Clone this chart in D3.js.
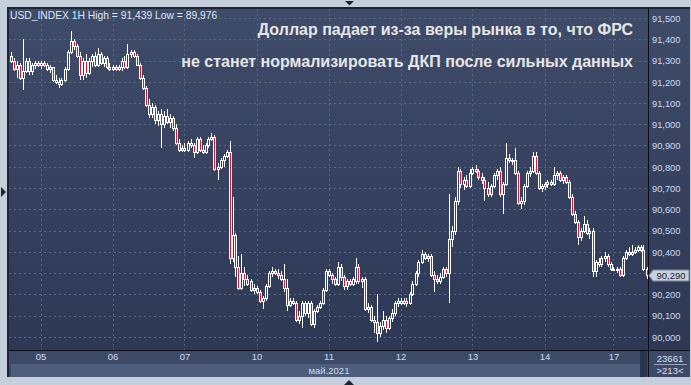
<!DOCTYPE html>
<html>
<head>
<meta charset="utf-8">
<script src="https://cdn.jsdelivr.net/npm/d3@7/dist/d3.min.js"></script>
<style>
  html, body { margin: 0; padding: 0; background: #c4cfdb; }
  svg { display: block; }
  text { font-family: "Liberation Sans", Arial, sans-serif; }
</style>
</head>
<body>
<svg id="chart" width="691" height="385"></svg>
<script>
// ---------- data (USD_INDEX, H1, 4–17 May 2021) ----------
const symbolTitle = "USD_INDEX 1H High = 91,439 Low = 89,976";
const headline1 = "Доллар падает из-за веры рынка в то, что ФРС";
const headline2 = "не станет нормализировать ДКП после сильных данных";
const monthLabel = "май.2021";
const lastPrice = 90.290;
const infoTop = "23661";
const infoBottom = ">213<";

const dayLabels = ["05", "06", "07", "10", "11", "12", "13", "14", "17"];
const dayStartBar = [10, 34, 58, 82, 106, 130, 154, 178, 201];
const priceTicks = [90.0, 90.1, 90.2, 90.3, 90.4, 90.5, 90.6, 90.7, 90.8, 90.9, 91.0, 91.1, 91.2, 91.3, 91.4, 91.5];

const opens = [
 91.32,91.30,91.26,91.28,91.22,91.25,91.30,91.25,91.28,91.29,
 91.28,91.29,91.28,91.26,91.27,91.21,91.20,91.19,91.21,91.26,
 91.34,91.39,91.37,91.32,91.23,91.30,91.24,91.30,91.32,91.28,
 91.33,91.29,91.31,91.27,91.26,91.27,91.26,91.27,91.30,91.27,
 91.33,91.34,91.32,91.28,91.22,91.17,91.09,91.05,91.08,91.02,
 91.05,91.00,91.04,91.01,91.03,90.98,90.91,90.88,90.89,90.88,
 90.91,90.90,90.87,90.93,90.88,90.87,90.90,90.93,90.94,90.79,
 90.80,90.83,90.85,90.87,90.37,90.48,90.33,90.23,90.30,90.27,
 90.26,90.22,90.23,90.21,90.17,90.18,90.24,90.30,90.31,90.30,
 90.29,90.27,90.23,90.15,90.17,90.16,90.08,90.10,90.16,90.11,
 90.16,90.06,90.12,90.14,90.16,90.22,90.31,90.29,90.27,90.25,
 90.33,90.28,90.24,90.26,90.25,90.26,90.33,90.26,90.27,90.13,
 90.14,90.08,90.07,90.02,90.05,90.08,90.04,90.09,90.11,90.16,
 90.17,90.16,90.17,90.16,90.20,90.25,90.30,90.35,90.39,90.37,
 90.38,90.29,90.27,90.26,90.28,90.32,90.30,90.46,90.50,90.64,
 90.78,90.72,90.74,90.71,90.77,90.79,90.78,90.75,90.74,90.70,
 90.67,90.71,90.76,90.78,90.67,90.72,90.84,90.83,90.83,90.77,
 90.63,90.64,90.71,90.77,90.78,90.85,90.77,90.70,90.71,90.72,
 90.73,90.72,90.76,90.77,90.74,90.75,90.73,90.66,90.58,90.54,
 90.47,90.50,90.53,90.49,90.50,90.31,90.35,90.34,90.37,90.38,
 90.34,90.32,90.32,90.32,90.29,90.37,90.40,90.39,90.40,90.41,
 90.42,90.41,90.32
];
const highs = [
 91.34,91.31,91.30,91.29,91.40,91.31,91.31,91.29,91.30,91.30,
 91.30,91.30,91.29,91.28,91.27,91.23,91.22,91.22,91.27,91.35,
 91.439,91.40,91.38,91.34,91.31,91.33,91.31,91.33,91.34,91.36,
 91.34,91.32,91.32,91.29,91.28,91.28,91.28,91.31,91.32,91.38,
 91.35,91.35,91.33,91.29,91.23,91.18,91.12,91.10,91.09,91.06,
 91.07,91.06,91.07,91.05,91.04,91.00,90.93,90.90,90.91,90.92,
 90.93,90.91,90.94,90.94,90.90,90.91,90.94,90.96,90.95,90.82,
 90.84,90.86,90.88,90.92,90.66,90.49,90.38,90.39,90.33,90.29,
 90.27,90.25,90.24,90.22,90.19,90.25,90.31,90.33,90.32,90.32,
 90.31,90.34,90.27,90.18,90.18,90.17,90.12,90.17,90.17,90.17,
 90.17,90.13,90.15,90.17,90.23,90.32,90.32,90.30,90.28,90.35,
 90.34,90.29,90.27,90.27,90.28,90.37,90.34,90.28,90.28,90.16,
 90.15,90.10,90.20,90.07,90.12,90.10,90.10,90.13,90.17,90.18,
 90.18,90.18,90.18,90.21,90.26,90.31,90.36,90.41,90.40,90.39,
 90.39,90.31,90.29,90.30,90.33,90.33,90.67,90.52,90.66,90.80,
 90.79,90.75,90.76,90.79,90.80,90.81,90.79,90.77,90.75,90.73,
 90.72,90.77,90.79,90.80,90.73,90.91,90.86,90.84,90.89,90.78,
 90.66,90.72,90.78,90.80,90.87,90.87,90.78,90.72,90.73,90.74,
 90.74,90.80,90.78,90.78,90.76,90.76,90.74,90.67,90.59,90.55,
 90.51,90.57,90.55,90.51,90.51,90.36,90.37,90.38,90.40,90.39,
 90.35,90.33,90.33,90.33,90.38,90.41,90.42,90.43,90.42,90.43,
 90.43,90.43,90.33
];
const lows = [
 91.29,91.25,91.22,91.21,91.16,91.24,91.23,91.23,91.26,91.27,
 91.26,91.27,91.25,91.24,91.20,91.19,91.17,91.18,91.20,91.25,
 91.33,91.35,91.31,91.21,91.21,91.22,91.23,91.27,91.27,91.27,
 91.28,91.27,91.26,91.25,91.25,91.25,91.25,91.25,91.26,91.26,
 91.31,91.31,91.28,91.21,91.16,91.08,91.03,91.03,91.00,90.99,
 90.89,90.98,91.00,90.98,90.97,90.90,90.87,90.87,90.87,90.87,
 90.89,90.84,90.86,90.87,90.86,90.86,90.89,90.92,90.78,90.74,
 90.79,90.80,90.84,90.34,90.35,90.28,90.22,90.22,90.24,90.24,
 90.21,90.20,90.20,90.16,90.13,90.17,90.23,90.28,90.29,90.27,
 90.26,90.21,90.12,90.14,90.15,90.07,90.06,90.04,90.10,90.09,
 90.05,90.04,90.11,90.13,90.15,90.21,90.28,90.25,90.24,90.24,
 90.26,90.22,90.22,90.24,90.24,90.25,90.25,90.23,90.12,90.11,
 90.07,90.02,89.976,90.00,90.03,90.02,90.03,90.07,90.10,90.14,
 90.15,90.15,90.14,90.15,90.19,90.24,90.28,90.34,90.36,90.35,
 90.28,90.21,90.25,90.25,90.27,90.28,90.16,90.42,90.48,90.62,
 90.70,90.69,90.70,90.70,90.76,90.77,90.74,90.72,90.64,90.66,
 90.66,90.70,90.74,90.66,90.58,90.71,90.82,90.81,90.76,90.62,
 90.60,90.62,90.70,90.75,90.77,90.76,90.69,90.68,90.69,90.70,
 90.71,90.71,90.74,90.73,90.72,90.72,90.65,90.57,90.53,90.43,
 90.45,90.49,90.48,90.46,90.28,90.28,90.33,90.33,90.35,90.33,
 90.31,90.31,90.30,90.28,90.28,90.36,90.38,90.38,90.39,90.40,
 90.40,90.31,90.27
];
const closes = [
 91.30,91.26,91.28,91.22,91.25,91.30,91.25,91.28,91.29,91.28,
 91.29,91.28,91.26,91.27,91.21,91.20,91.19,91.21,91.26,91.34,
 91.39,91.37,91.32,91.23,91.30,91.24,91.30,91.32,91.28,91.33,
 91.29,91.31,91.27,91.26,91.27,91.26,91.27,91.30,91.27,91.33,
 91.34,91.32,91.28,91.22,91.17,91.09,91.05,91.08,91.02,91.05,
 91.00,91.04,91.01,91.03,90.98,90.91,90.88,90.89,90.88,90.91,
 90.90,90.87,90.93,90.88,90.87,90.90,90.93,90.94,90.79,90.80,
 90.83,90.85,90.87,90.37,90.48,90.33,90.23,90.30,90.27,90.25,
 90.22,90.23,90.21,90.17,90.18,90.24,90.30,90.31,90.30,90.29,
 90.27,90.23,90.15,90.17,90.16,90.08,90.10,90.16,90.11,90.16,
 90.06,90.12,90.14,90.16,90.22,90.31,90.29,90.27,90.25,90.33,
 90.28,90.24,90.26,90.25,90.27,90.33,90.26,90.27,90.13,90.14,
 90.08,90.07,90.02,90.05,90.08,90.04,90.09,90.11,90.16,90.17,
 90.16,90.17,90.16,90.20,90.25,90.30,90.35,90.39,90.37,90.38,
 90.29,90.27,90.26,90.28,90.32,90.30,90.46,90.50,90.64,90.78,
 90.72,90.74,90.71,90.77,90.79,90.78,90.75,90.74,90.70,90.67,
 90.71,90.76,90.78,90.67,90.72,90.84,90.83,90.83,90.77,90.63,
 90.64,90.71,90.77,90.78,90.85,90.77,90.70,90.71,90.72,90.73,
 90.72,90.76,90.77,90.74,90.75,90.73,90.66,90.58,90.54,90.47,
 90.50,90.53,90.49,90.50,90.31,90.35,90.34,90.37,90.38,90.34,
 90.32,90.32,90.32,90.29,90.37,90.40,90.39,90.40,90.41,90.42,
 90.41,90.32,90.29
];

// ---------- layout ----------
const svg = d3.select("#chart");
const plot = { left: 9, top: 9, right: 648, bottom: 350 };
const colors = {
  outer: "#c4cfdb", frame: "#1d2433", axisBand: "#3c4a67", monthBand: "#4e5d79",
  grid: "#5a6884", label: "#cddaf0", bear: "#e8102c", wick: "#ffffff", head: "#e6e6e6"
};

const x = d3.scaleLinear().domain([0, opens.length - 1]).range([10.5, 646.5]);
const y = d3.scaleLinear().domain([90.0, 91.5]).range([336.75, 18]);
const fmt = v => d3.format(".3f")(v).replace(".", ",");

const defs = svg.append("defs");
const grad = defs.append("linearGradient").attr("id", "bg").attr("x1", 0).attr("y1", 0).attr("x2", 0).attr("y2", 1);
grad.append("stop").attr("offset", "0%").attr("stop-color", "#3e4b69");
grad.append("stop").attr("offset", "100%").attr("stop-color", "#2d3855");
defs.append("clipPath").attr("id", "clip").append("rect")
  .attr("x", plot.left).attr("y", plot.top).attr("width", plot.right - plot.left).attr("height", plot.bottom - plot.top);

// outer + frame
svg.append("rect").attr("width", 691).attr("height", 385).attr("fill", colors.outer);
svg.append("rect").attr("x", 7).attr("y", 7).attr("width", 683).attr("height", 370).attr("fill", colors.frame);
svg.append("rect").attr("x", plot.left).attr("y", plot.top).attr("width", plot.right - plot.left).attr("height", plot.bottom - plot.top).attr("fill", "url(#bg)");
svg.append("rect").attr("x", 649).attr("y", plot.top).attr("width", 41).attr("height", plot.bottom - plot.top).attr("fill", "url(#bg)");
// bottom bands
svg.append("rect").attr("x", plot.left).attr("y", 351).attr("width", plot.right - plot.left).attr("height", 13).attr("fill", colors.axisBand);
svg.append("rect").attr("x", plot.left).attr("y", 364).attr("width", plot.right - plot.left).attr("height", 13).attr("fill", colors.axisBand);
svg.append("rect").attr("x", 11).attr("y", 364).attr("width", 629).attr("height", 13).attr("fill", colors.monthBand);
svg.append("rect").attr("x", 640).attr("y", 351).attr("width", 7).attr("height", 26).attr("fill", "#2a3550");
svg.append("rect").attr("x", 649).attr("y", 351).attr("width", 41).attr("height", 26).attr("fill", colors.axisBand);

// grid
const gGrid = svg.append("g").attr("clip-path", "url(#clip)");
gGrid.selectAll("line.h").data(priceTicks).join("line")
  .attr("x1", plot.left).attr("x2", plot.right)
  .attr("y1", d => Math.round(y(d)) + 0.5).attr("y2", d => Math.round(y(d)) + 0.5)
  .attr("stroke", colors.grid).attr("stroke-dasharray", "2,3");
gGrid.selectAll("line.v").data(dayStartBar).join("line")
  .attr("x1", d => Math.round(x(d)) + 0.5).attr("x2", d => Math.round(x(d)) + 0.5)
  .attr("y1", plot.top).attr("y2", plot.bottom)
  .attr("stroke", colors.grid).attr("stroke-dasharray", "2,3");

// separators
svg.append("rect").attr("x", plot.right).attr("y", plot.top).attr("width", 1).attr("height", 368).attr("fill", "#0b0e16");
svg.append("rect").attr("x", plot.left).attr("y", plot.bottom).attr("width", 681).attr("height", 1).attr("fill", "#0b0e16");

// candles
const bars = opens.map((o, i) => ({ i, o, h: highs[i], l: lows[i], c: closes[i] }));
const gC = svg.append("g").attr("clip-path", "url(#clip)").attr("shape-rendering", "crispEdges");
bars.forEach(b => {
  const cx = Math.round(x(b.i));
  const top = Math.round(y(Math.max(b.o, b.c)));
  const bot = Math.max(top + 1, Math.round(y(Math.min(b.o, b.c))));
  const hi = Math.round(y(b.h)), lo = Math.round(y(b.l));
  if (hi < top) gC.append("rect").attr("x", cx).attr("y", hi).attr("width", 1).attr("height", top - hi).attr("fill", colors.wick);
  if (lo > bot) gC.append("rect").attr("x", cx).attr("y", bot).attr("width", 1).attr("height", lo - bot).attr("fill", colors.wick);
  const bear = b.c < b.o;
  gC.append("rect").attr("x", cx - 1).attr("y", top).attr("width", 1).attr("height", bot - top + 1).attr("fill", colors.wick);
  gC.append("rect").attr("x", cx + 1).attr("y", top).attr("width", 1).attr("height", bot - top + 1).attr("fill", colors.wick);
  gC.append("rect").attr("x", cx).attr("y", top).attr("width", 1).attr("height", 1).attr("fill", colors.wick);
  gC.append("rect").attr("x", cx).attr("y", bot).attr("width", 1).attr("height", 1).attr("fill", colors.wick);
  if (bot - top > 1) {
    gC.append("rect").attr("x", cx).attr("y", top + 1).attr("width", 1).attr("height", bot - top - 1)
      .attr("fill", bear ? colors.bear : "#34405e");
  }
});

// y axis (right) — the tick hidden under the last-price tag is not labelled
const ly = Math.round(y(lastPrice));
const labelledTicks = priceTicks.filter(t => Math.abs(y(t) - ly) > 7);
const yAxis = d3.axisRight(y).tickValues(labelledTicks).tickFormat(fmt).tickSize(0).tickPadding(0);
const gy = svg.append("g").attr("transform", "translate(652,0)").call(yAxis);
gy.select(".domain").remove();
gy.selectAll("text").attr("fill", colors.label).attr("font-size", 9.3).attr("dy", "0.35em")
  .attr("font-family", "'Liberation Sans', Arial, sans-serif");

// x axis labels
const xAxis = d3.axisBottom(x).tickValues(dayStartBar).tickFormat((d, k) => dayLabels[k]).tickSize(0).tickPadding(0);
const gx = svg.append("g").attr("transform", "translate(0,353)").call(xAxis);
gx.select(".domain").remove();
gx.selectAll("text").attr("fill", colors.label).attr("font-size", 9.5).attr("dy", "0.71em")
  .attr("font-family", "'Liberation Sans', Arial, sans-serif");

svg.append("text").attr("x", 329).attr("y", 373.5).attr("text-anchor", "middle")
  .attr("font-size", 9.5).attr("fill", colors.label).text(monthLabel);

// info box bottom right
svg.append("text").attr("x", 670).attr("y", 362).attr("text-anchor", "middle").attr("font-size", 9.5).attr("fill", "#d8e2f4").text(infoTop);
svg.append("rect").attr("x", 654).attr("y", 364).attr("width", 33).attr("height", 1).attr("fill", "#9aa6bc");
svg.append("text").attr("x", 670).attr("y", 374).attr("text-anchor", "middle").attr("font-size", 9.5).attr("fill", "#d8e2f4").text(infoBottom);

// last price tag
svg.append("path")
  .attr("d", `M649,${ly + 0.5} L653,${ly - 5} L689,${ly - 5} L689,${ly + 6} L653,${ly + 6} Z`)
  .attr("fill", "#c9d1dc").attr("stroke", "#7f8898").attr("stroke-width", 1);
svg.append("text").attr("x", 671).attr("y", ly + 4).attr("text-anchor", "middle").attr("font-size", 9.5)
  .attr("fill", "#1b2333").text(fmt(lastPrice));

// title texts
svg.append("text").attr("x", 10).attr("y", 19).attr("font-size", 10.3).attr("fill", "#dfe7f5").text(symbolTitle);
svg.append("text").attr("x", 633).attr("y", 35).attr("text-anchor", "end").attr("font-size", 16)
  .attr("font-weight", "bold").attr("fill", colors.head).text(headline1);
svg.append("text").attr("x", 633).attr("y", 67).attr("text-anchor", "end").attr("font-size", 16)
  .attr("font-weight", "bold").attr("fill", colors.head).text(headline2);

// scroll markers (triangles)
svg.append("path").attr("d", "M345,1 L354,1 L349.5,5.5 Z").attr("fill", "#1d2433");
svg.append("path").attr("d", "M344,385 L354,385 L349,380 Z").attr("fill", "#1d2433");
svg.append("path").attr("d", "M1,187 L1,197 L6,192 Z").attr("fill", "#1d2433");
</script>
</body>
</html>
